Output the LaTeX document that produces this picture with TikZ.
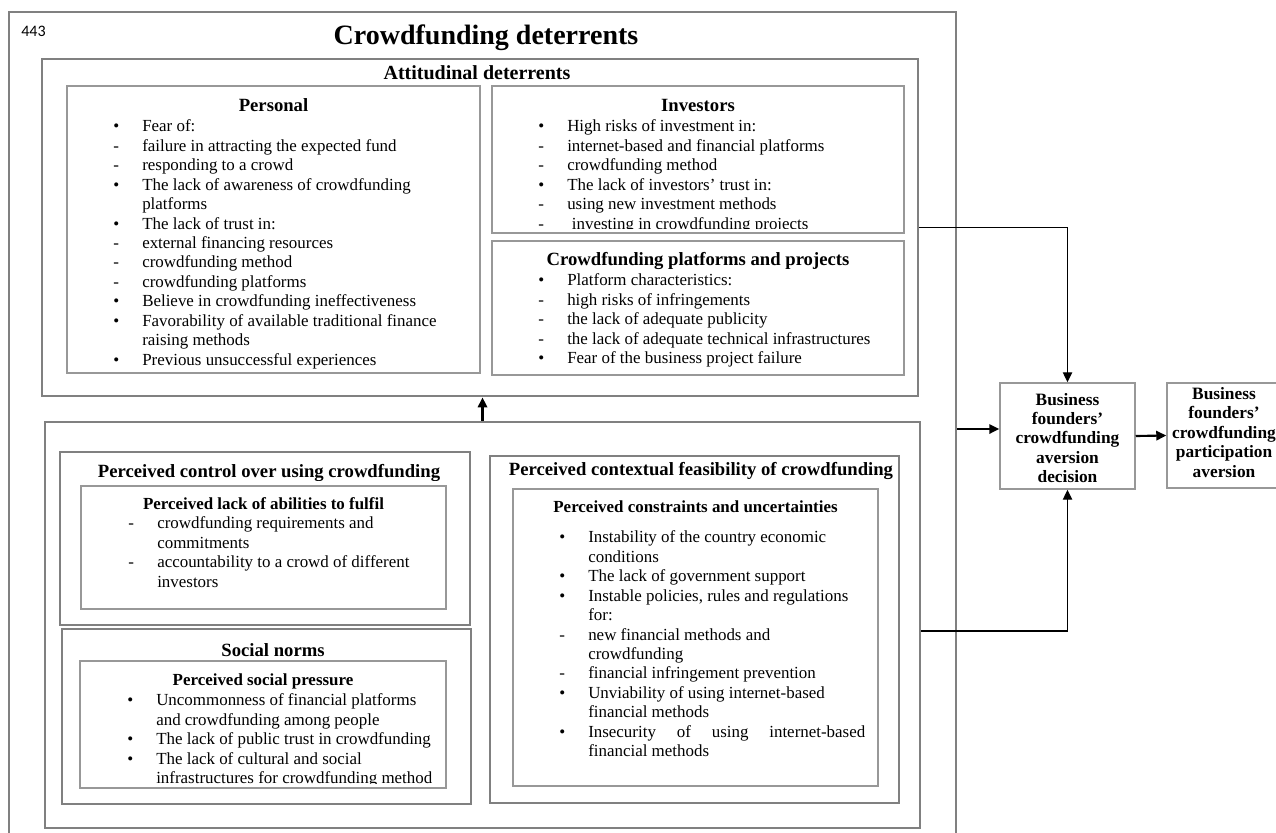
\documentclass[tikz,border=0pt]{standalone}
\usepackage{fontspec}
\setmainfont{Liberation Serif}
\newfontfamily\pagefont{Carlito}
\usetikzlibrary{
    positioning,
    arrows.meta,
    fit,
    calc
}
\definecolor{FrameGray}{RGB}{128,128,128}
\definecolor{BoxGray}{RGB}{152,152,152}

% list lines: bullet, dash, continuation
\newcommand{\itembul}[1]{\makebox[21.75pt][l]{\textbullet}#1}
\newcommand{\itemdash}[1]{\makebox[21.75pt][l]{-}#1}
\newcommand{\itemcont}[1]{\hspace*{21.75pt}#1}

\begin{document}
\begin{tikzpicture}[
            x=0.75pt, y=-0.75pt,
            font=\fontsize{12.7pt}{14.6pt}\selectfont,
            every node/.style={inner sep=0pt},
            outerframe/.style={draw=FrameGray, line width=1.5pt},
            midframe/.style={draw=FrameGray, line width=2.1pt},
            innerbox/.style={draw=BoxGray, line width=1.1pt},
            head/.style={font=\fontsize{14pt}{17pt}\selectfont\bfseries, anchor=base},
            subhead/.style={font=\fontsize{12.7pt}{15pt}\selectfont\bfseries, anchor=base},
            list/.style={align=left, anchor=north west},
            outtext/.style={align=center, font=\fontsize{13pt}{14.6pt}\selectfont\bfseries},
            conn/.style={line width=1pt, -{Triangle[length=7.5pt,width=7pt]}},
            arr/.style={line width=1.6pt, -{Triangle[length=7.5pt,width=7pt]}},
        ]
          \clip (0,0) rectangle (1276,832);

          % Frames
          \node[outerframe, fit={(9,12) (956,846)}] (outer) {};
          \node[midframe, fit={(42,59) (918,396)}] (att) {};
          \node[innerbox, fit={(67,86) (480,373)}] (pers) {};
          \node[innerbox, fit={(492,86) (904,233)}] (inv) {};
          \node[innerbox, fit={(492,241) (904,375)}] (plat) {};
          \node[midframe, fit={(45,422) (920,828)}] (lower) {};
          \node[midframe, fit={(60,452) (470,625)}] (ctrl) {};
          \node[innerbox, fit={(81,486) (446,609)}] (abil) {};
          \node[midframe, fit={(62,629) (471,804)}] (soc) {};
          \node[innerbox, fit={(80,661) (446,788)}] (press) {};
          \node[midframe, fit={(490,456) (899,803)}] (ctx) {};
          \node[innerbox, fit={(513,489) (878,786)}] (cons) {};

          % Titles
          \node[font=\pagefont\fontsize{12pt}{14pt}\selectfont, anchor=base] (page) at (33.5,36) {443};
          \node[font=\fontsize{21pt}{25pt}\selectfont\bfseries, anchor=base] (title) at (486,44) {Crowdfunding deterrents};
          \node[font=\fontsize{15pt}{18pt}\selectfont\bfseries, anchor=base] (atttitle) at (477,79) {Attitudinal deterrents};

          % Attitudinal deterrents
          \node[head] (perstitle) at (273.5,111) {Personal};
          \node[list] (perslist) at (113,119.5) {%
            \itembul{Fear of:}\\
            \itemdash{failure in attracting the expected fund}\\
            \itemdash{responding to a crowd}\\
            \itembul{The lack of awareness of crowdfunding}\\
            \itemcont{platforms}\\
            \itembul{The lack of trust in:}\\
            \itemdash{external financing resources}\\
            \itemdash{crowdfunding method}\\
            \itemdash{crowdfunding platforms}\\
            \itembul{Believe in crowdfunding ineffectiveness}\\
            \itembul{Favorability of available traditional finance}\\
            \itemcont{raising methods}\\
            \itembul{Previous unsuccessful experiences}};

          \node[head] (invtitle) at (698,111) {Investors};
          \begin{scope}
            \clip (492,86) rectangle (904,228.5);
            \node[list] (invlist) at (538,119.5) {%
              \itembul{High risks of investment in:}\\
              \itemdash{internet-based and financial platforms}\\
              \itemdash{crowdfunding method}\\
              \itembul{The lack of investors’ trust in:}\\
              \itemdash{using new investment methods}\\
              \itemdash{\hspace{3.5pt}investing in crowdfunding projects}};
          \end{scope}

          \node[head] (plattitle) at (698,265) {Crowdfunding platforms and projects};
          \node[list] (platlist) at (538,273.5) {%
            \itembul{Platform characteristics:}\\
            \itemdash{high risks of infringements}\\
            \itemdash{the lack of adequate publicity}\\
            \itemdash{the lack of adequate technical infrastructures}\\
            \itembul{Fear of the business project failure}};

          % Perceived control
          \begin{scope}
            \clip (60,452) rectangle (470,480);
            \node[head] (ctrltitle) at (269,477) {Perceived control over using crowdfunding};
          \end{scope}
          \node[subhead] (abiltitle) at (263.5,509) {Perceived lack of abilities to fulfil};
          \node[list] (abillist) at (128,516.5) {%
            \itemdash{crowdfunding requirements and}\\
            \itemcont{commitments}\\
            \itemdash{accountability to a crowd of different}\\
            \itemcont{investors}};

          % Social norms
          \node[head] (soctitle) at (273,656) {Social norms};
          \node[subhead] (presstitle) at (263,685) {Perceived social pressure};
          \begin{scope}
            \clip (80,661) rectangle (446,783.5);
            \node[list] (presslist) at (127,693.5) {%
              \itembul{Uncommonness of financial platforms}\\
              \itemcont{and crowdfunding among people}\\
              \itembul{The lack of public trust in crowdfunding}\\
              \itembul{The lack of cultural and social}\\
              \itemcont{infrastructures for crowdfunding method}};
          \end{scope}

          % Contextual feasibility
          \node[head] (ctxtitle) at (701,475) {Perceived contextual feasibility of crowdfunding};
          \node[subhead] (constitle) at (695.5,512) {Perceived constraints and uncertainties};
          \node[list] (conslist) at (559,530.5) {%
            \itembul{Instability of the country economic}\\
            \itemcont{conditions}\\
            \itembul{The lack of government support}\\
            \itembul{Instable policies, rules and regulations}\\
            \itemcont{for:}\\
            \itemdash{new financial methods and}\\
            \itemcont{crowdfunding}\\
            \itemdash{financial infringement prevention}\\
            \itembul{Unviability of using internet-based}\\
            \itemcont{financial methods}\\
            \itembul{\makebox[207.75pt][s]{Insecurity\hfill of\hfill using\hfill internet-based}}\\
            \itemcont{financial methods}};

          % Outcome boxes
          \node[innerbox, fit={(1000,383) (1135,489)}] (dec) {};
          \node[outtext] (dectext) at ([yshift=-1.5pt]dec.center)
                {Business\\founders’\\crowdfunding\\aversion\\decision};
          \node[innerbox, fit={(1167,383) (1281,488)}] (part) {};
          \node[outtext] (parttext) at ([yshift=2.5pt]part.center)
                {Business\\founders’\\crowdfunding\\participation\\aversion};

          % Connectors
          \draw[arr] (lower.north) -- (lower.north |- att.south);
          \draw[conn] (att.east) -| (dec.north);
          \draw[conn] ([yshift=-4.5pt]lower.east) -| (dec.south);
          \draw[arr] (outer.east) -- (outer.east -| dec.west);
          \draw[arr] (dec.east) -- (part.west);
        \end{tikzpicture}
\end{document}
